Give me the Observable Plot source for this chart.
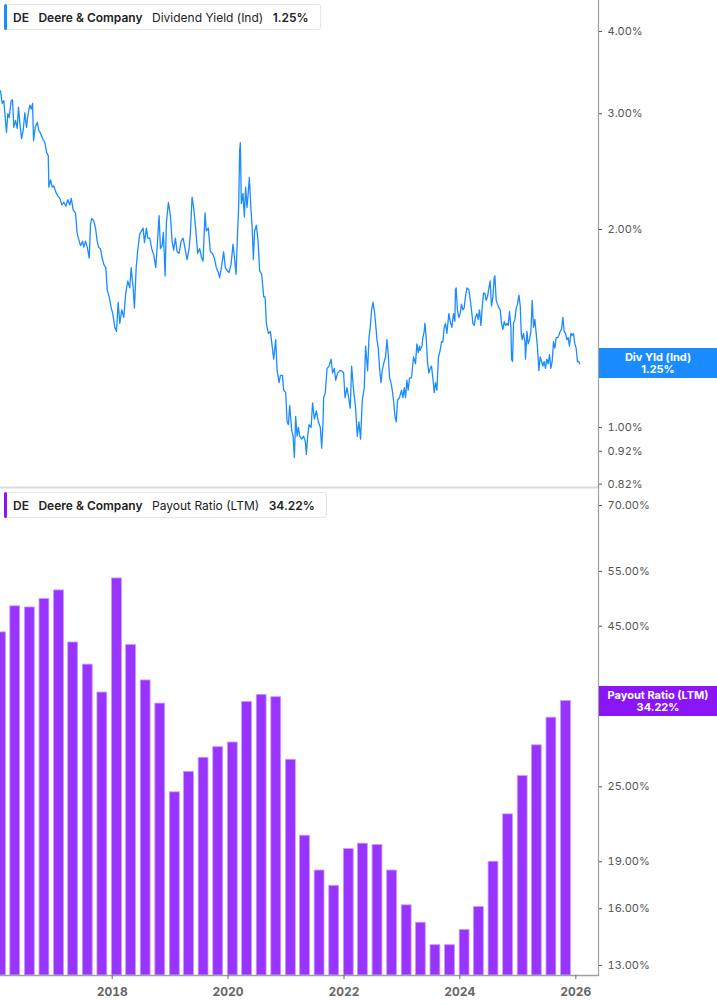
<!DOCTYPE html>
<html><head><meta charset="utf-8">
<script src="https://cdn.jsdelivr.net/npm/d3@7"></script>
<script src="https://cdn.jsdelivr.net/npm/@observablehq/plot@0.6"></script>
<style>
body{margin:0;background:#fff;font-family:Inter,"Noto Sans",sans-serif;}
#wrap{position:relative;width:717px;height:1005px;overflow:hidden;}
.panel{position:absolute;left:0;width:717px;}
.panel svg{display:block;}
.hdr{position:absolute;left:4px;height:26px;border:1px solid #e6e6e6;border-radius:3px;background:#fff;display:flex;align-items:center;font-size:12px;color:#222;padding:0 11px 0 8px;gap:9.5px;box-sizing:border-box;white-space:nowrap;}
.hdr .stripe{position:absolute;left:-1px;top:-1px;bottom:-1px;width:3px;border-radius:2px;}
.b{font-weight:600}
.tag{position:absolute;left:599px;width:118px;height:30px;color:#fff;font-weight:700;font-size:11px;line-height:12px;text-align:center;display:flex;flex-direction:column;justify-content:center;}
</style>
</head><body>
<div id="wrap">
  <div class="panel" id="topPanel" style="top:0"></div>
  <div class="panel" id="botPanel" style="top:488px"></div>
  <div class="hdr" style="top:4px"><span class="stripe" style="background:#1a8cff"></span><span class="b">DE</span><span class="b">Deere &amp; Company</span><span>Dividend Yield (Ind)</span><span class="b">1.25%</span></div>
  <div class="hdr" style="top:492px"><span class="stripe" style="background:#8a16f5"></span><span class="b">DE</span><span class="b">Deere &amp; Company</span><span>Payout Ratio (LTM)</span><span class="b">34.22%</span></div>
  <div class="tag" id="tagTop" style="background:#1a8cff"><div>Div Yld (Ind)</div><div>1.25%</div></div>
  <div class="tag" id="tagBot" style="background:#8a16f5"><div>Payout Ratio (LTM)</div><div>34.22%</div></div>
</div>
<script>
// Dividend yield (%) — [decimal year, value]
const divYield = [
[2016.074,3.25],[2016.103,3.11],[2016.131,3.14],[2016.155,2.96],[2016.177,2.81],[2016.200,3.00],[2016.224,2.96],[2016.258,3.14],[2016.281,3.15],[2016.303,2.86],[2016.333,2.93],[2016.362,2.85],[2016.384,3.07],[2016.407,2.90],[2016.436,2.75],[2016.465,2.83],[2016.493,3.01],[2016.522,2.86],[2016.552,3.01],[2016.579,3.09],[2016.603,3.05],[2016.626,3.11],[2016.643,2.73],[2016.672,2.86],[2016.707,2.91],[2016.734,2.83],[2016.764,2.80],[2016.798,2.75],[2016.838,2.71],[2016.867,2.62],[2016.896,2.59],[2016.907,2.32],[2016.936,2.38],[2016.965,2.32],[2016.993,2.33],[2017.027,2.28],[2017.062,2.25],[2017.096,2.23],[2017.131,2.18],[2017.165,2.20],[2017.200,2.17],[2017.234,2.22],[2017.269,2.18],[2017.293,2.23],[2017.327,2.14],[2017.367,2.12],[2017.396,1.97],[2017.431,1.92],[2017.453,1.89],[2017.488,1.92],[2017.510,1.88],[2017.540,1.92],[2017.569,1.88],[2017.603,1.81],[2017.626,2.04],[2017.648,2.08],[2017.683,2.06],[2017.712,2.01],[2017.741,1.92],[2017.764,1.88],[2017.798,1.87],[2017.827,1.81],[2017.855,1.77],[2017.890,1.75],[2017.914,1.62],[2017.948,1.58],[2017.983,1.52],[2018.010,1.49],[2018.045,1.42],[2018.074,1.40],[2018.103,1.55],[2018.131,1.44],[2018.165,1.51],[2018.200,1.47],[2018.234,1.60],[2018.269,1.67],[2018.303,1.63],[2018.327,1.75],[2018.362,1.63],[2018.384,1.52],[2018.414,1.75],[2018.441,1.86],[2018.476,1.97],
[2018.534,2.01],[2018.557,1.91],[2018.591,2.01],[2018.614,1.94],[2018.648,1.94],[2018.683,1.87],[2018.717,1.83],[2018.752,1.75],[2018.776,1.88],[2018.810,2.10],[2018.833,1.87],[2018.862,1.89],[2018.884,1.98],[2018.914,1.70],[2018.936,2.05],[2018.971,2.20],[2019.005,2.10],[2019.034,1.92],[2019.062,1.86],[2019.091,1.94],[2019.121,1.85],[2019.155,1.84],[2019.190,1.92],[2019.224,1.94],[2019.258,1.87],[2019.293,1.80],[2019.327,1.87],[2019.350,1.97],[2019.379,2.24],[2019.407,2.16],[2019.441,2.01],[2019.476,1.84],[2019.510,1.87],[2019.545,1.81],[2019.569,1.79],[2019.603,2.12],[2019.626,1.99],[2019.660,2.01],[2019.695,1.85],[2019.729,1.84],[2019.764,1.81],[2019.798,1.75],[2019.833,1.72],[2019.855,1.69],[2019.890,1.76],[2019.924,1.85],[2019.953,1.75],[2019.988,1.73],[2020.017,1.72],[2020.052,1.77],[2020.086,1.90],[2020.114,1.80],[2020.138,1.71],[2020.160,1.94],[2020.183,2.16],[2020.200,2.64],[2020.212,2.71],[2020.229,2.19],[2020.258,2.27],[2020.281,2.09],[2020.303,2.32],[2020.327,2.16],[2020.350,2.29],[2020.367,2.40],[2020.396,2.14],[2020.419,1.99],[2020.436,1.80],[2020.458,1.99],[2020.488,2.03],[2020.517,1.92],[2020.545,1.73],[2020.579,1.71],[2020.614,1.58],[2020.638,1.58],[2020.660,1.44],[2020.695,1.39],[2020.729,1.40],[2020.764,1.32],[2020.786,1.27],[2020.821,1.36],[2020.845,1.22],[2020.879,1.17],
[2020.902,1.20],[2020.936,1.20],[2020.958,1.14],[2020.993,1.13],[2021.017,1.02],[2021.040,1.01],[2021.062,1.08],[2021.096,0.99],[2021.121,0.97],[2021.143,0.90],[2021.165,1.04],[2021.190,0.97],[2021.212,1.00],[2021.234,0.97],[2021.269,0.96],[2021.303,0.97],[2021.333,0.95],[2021.350,0.91],[2021.372,0.97],[2021.396,1.01],[2021.431,1.00],[2021.458,1.09],[2021.488,1.03],[2021.522,1.06],[2021.557,1.02],[2021.591,1.00],[2021.614,0.93],[2021.638,1.02],[2021.648,1.11],[2021.677,1.13],[2021.707,1.23],[2021.741,1.24],[2021.776,1.27],[2021.803,1.21],[2021.833,1.23],[2021.855,1.18],[2021.890,1.21],[2021.924,1.22],[2021.958,1.22],[2021.993,1.21],[2022.017,1.11],[2022.052,1.15],[2022.086,1.10],[2022.108,1.07],[2022.131,1.24],[2022.165,1.14],[2022.200,1.07],[2022.229,0.97],[2022.258,1.02],[2022.286,0.96],[2022.315,1.10],[2022.350,1.15],[2022.372,1.33],[2022.407,1.22],[2022.431,1.37],[2022.453,1.42],[2022.476,1.51],[2022.500,1.55],[2022.522,1.51],[2022.545,1.44],[2022.569,1.36],[2022.591,1.32],[2022.614,1.23],[2022.638,1.17],[2022.660,1.22],[2022.683,1.25],[2022.717,1.28],[2022.741,1.36],[2022.764,1.29],[2022.786,1.19],[2022.810,1.17],[2022.833,1.14],[2022.855,1.10],[2022.879,1.04],[2022.902,1.02],[2022.924,1.10],[2022.958,1.11],[2022.993,1.14],[2023.017,1.11],[2023.040,1.15],[2023.062,1.11],[2023.086,1.18],[2023.108,1.14],[2023.131,1.19],[2023.165,1.19],[2023.200,1.28],[2023.234,1.25],[2023.258,1.34],[2023.281,1.30],[2023.303,1.33],
[2023.315,1.31],[2023.345,1.33],[2023.362,1.37],[2023.384,1.40],[2023.396,1.44],[2023.419,1.37],[2023.441,1.26],[2023.465,1.21],[2023.488,1.23],[2023.510,1.24],[2023.534,1.19],[2023.557,1.13],[2023.579,1.17],[2023.603,1.14],[2023.631,1.28],[2023.660,1.31],[2023.683,1.35],[2023.707,1.35],[2023.729,1.42],[2023.752,1.44],[2023.776,1.39],[2023.810,1.49],[2023.833,1.45],[2023.862,1.42],[2023.890,1.49],[2023.914,1.45],[2023.924,1.62],[2023.936,1.63],[2023.958,1.51],[2023.983,1.47],[2024.005,1.49],[2024.027,1.54],[2024.052,1.51],[2024.074,1.52],[2024.096,1.58],[2024.121,1.63],[2024.155,1.62],[2024.177,1.57],[2024.200,1.51],[2024.224,1.44],[2024.246,1.43],[2024.269,1.47],[2024.293,1.49],[2024.315,1.46],[2024.338,1.51],[2024.362,1.43],[2024.384,1.52],[2024.407,1.60],[2024.431,1.60],[2024.453,1.56],[2024.476,1.58],[2024.500,1.63],[2024.522,1.67],[2024.545,1.53],[2024.569,1.58],[2024.591,1.69],[2024.603,1.70],[2024.626,1.56],[2024.648,1.54],[2024.672,1.52],[2024.695,1.51],[2024.717,1.44],[2024.741,1.41],[2024.764,1.45],[2024.786,1.43],[2024.810,1.44],[2024.833,1.43],[2024.855,1.50],[2024.879,1.42],[2024.890,1.27],[2024.907,1.26],[2024.924,1.44],[2024.948,1.46],[2024.971,1.52],[2024.993,1.54],[2025.017,1.59],[2025.040,1.53],[2025.057,1.39],[2025.074,1.36],[2025.096,1.39],[2025.121,1.35],[2025.131,1.27],[2025.155,1.40],[2025.177,1.34],[2025.200,1.36],[2025.224,1.40],[2025.246,1.56],[2025.269,1.42],[2025.293,1.46],[2025.315,1.39],[2025.338,1.32],[2025.362,1.22],[2025.384,1.28],[2025.407,1.26],[2025.431,1.24],[2025.453,1.26],[2025.476,1.23],[2025.500,1.27],[2025.522,1.25],[2025.545,1.29],[2025.569,1.23],[2025.591,1.26],[2025.614,1.35],[2025.638,1.32],[2025.660,1.37],[2025.683,1.37],[2025.707,1.38],[2025.729,1.40],[2025.752,1.41],[2025.776,1.47],[2025.798,1.40],[2025.821,1.39],[2025.845,1.36],[2025.867,1.37],[2025.890,1.33],[2025.914,1.39],[2025.936,1.38],[2025.958,1.39],[2025.983,1.34],[2026.005,1.32],[2026.027,1.26],[2026.052,1.26],[2026.062,1.25]
];

// Payout ratio (LTM, %) by fiscal quarter
const payoutQuarters = [
"2016-01-31","2016-04-30","2016-07-31","2016-10-31",
"2017-01-31","2017-04-30","2017-07-31","2017-10-31",
"2018-01-31","2018-04-30","2018-07-31","2018-10-31",
"2019-01-31","2019-04-30","2019-07-31","2019-10-31",
"2020-01-31","2020-04-30","2020-07-31","2020-10-31",
"2021-01-31","2021-04-30","2021-07-31","2021-10-31",
"2022-01-31","2022-04-30","2022-07-31","2022-10-31",
"2023-01-31","2023-04-30","2023-07-31","2023-10-31",
"2024-01-31","2024-04-30","2024-07-31","2024-10-31",
"2025-01-31","2025-04-30","2025-07-31","2025-10-31"];
const payoutValues = [44.0,48.4,48.2,49.7,51.3,42.4,39.1,35.3,53.6,42.0,36.9,33.9,24.5,26.4,27.8,28.9,29.4,34.1,35.0,34.7,27.6,20.9,18.4,17.4,19.9,20.3,20.2,18.4,16.2,15.2,14.0,14.0,14.8,16.1,19.0,22.6,26.0,29.1,32.2,34.22];

const yieldTicks = [0.82, 0.92, 1, 2, 3, 4];
const payoutTicks = [13, 16, 19, 25, 45, 55, 70];
const yearTicks = [2018, 2020, 2022, 2024, 2026];
const xDomainYears = [2016.074, 2026.391];
const yieldDomain = [0.8105, 4.459];
const payoutDomain = [12.53, 74.5];
const lastYield = 1.25, lastPayout = 34.22;

function toDate(y){const yr=Math.floor(y);const s=Date.UTC(yr,0,1),e=Date.UTC(yr+1,0,1);return new Date(s+(y-yr)*(e-s));}

const yieldData = divYield.map(([t,v]) => ({date: toDate(t), value: v}));
const payoutData = payoutQuarters.map((q,i) => ({date: new Date(q+"T00:00:00Z"), value: payoutValues[i]}));
const xDomain = xDomainYears.map(toDate);
const fmt = d => d.toFixed(2) + "%";
const font = {fontFamily: "Inter, 'Noto Sans', sans-serif", fontSize: "11px", background: "transparent", overflow: "visible"};

const topPlot = Plot.plot({
  width: 717, height: 488, marginLeft: 0, marginRight: 119, marginTop: 0, marginBottom: 1,
  style: font,
  x: {type: "utc", domain: xDomain, axis: null},
  y: {type: "log", domain: yieldDomain, axis: null},
  marks: [
    Plot.frame({anchor: "bottom", stroke: "#dcdcdc", strokeWidth: 2}),
    Plot.frame({anchor: "right", stroke: "#a0a0a0", strokeWidth: 1.2}),
    Plot.axisY({anchor: "right", label: null, ticks: yieldTicks, tickFormat: fmt, tickSize: 3, tickPadding: 6, color: "#555"}),
    Plot.line(yieldData, {x: "date", y: "value", stroke: "#1a8cff", strokeWidth: 1.3, clip: true})
  ]
});
document.getElementById("topPanel").appendChild(topPlot);

const botPlot = Plot.plot({
  width: 717, height: 517, marginLeft: 0, marginRight: 119, marginTop: 0, marginBottom: 30,
  style: font,
  x: {type: "utc", domain: xDomain, axis: null},
  y: {type: "log", domain: payoutDomain, axis: null},
  marks: [
    Plot.rect(payoutData, {
      x1: d => d3.utcDay.offset(d.date, -31), x2: d => d3.utcDay.offset(d.date, 31),
      y1: () => payoutDomain[0], y2: "value",
      fill: "#9933ff", stroke: "#c79bff", strokeWidth: 0.8, clip: true
    }),
    Plot.frame({anchor: "bottom", stroke: "#a0a0a0", strokeWidth: 1.5}),
    Plot.frame({anchor: "right", stroke: "#a0a0a0", strokeWidth: 1.2}),
    Plot.axisY({anchor: "right", label: null, ticks: payoutTicks, tickFormat: fmt, tickSize: 3, tickPadding: 6, color: "#555"}),
    Plot.axisX({label: null, ticks: yearTicks.map(y => toDate(y)), tickFormat: "%Y", tickSize: 4, tickPadding: 8, color: "#666", fontWeight: "bold", fontSize: 12})
  ]
});
document.getElementById("botPanel").appendChild(botPlot);

const yT = topPlot.scale("y").apply(lastYield);
document.getElementById("tagTop").style.top = (yT - 15) + "px";
const yB = botPlot.scale("y").apply(lastPayout);
document.getElementById("tagBot").style.top = (488 + yB - 15) + "px";
</script>
</body></html>
